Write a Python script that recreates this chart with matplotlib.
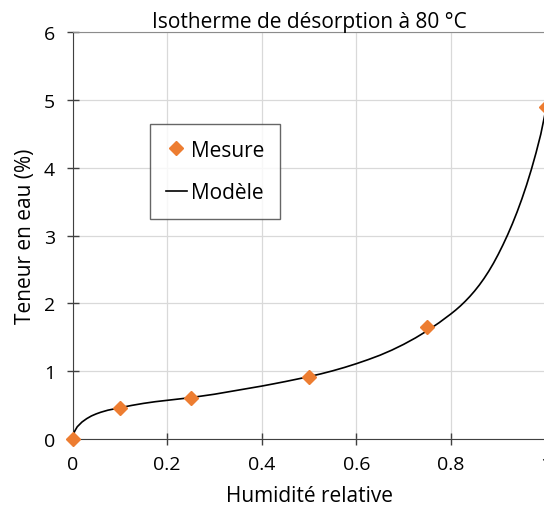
import numpy as np
import matplotlib
matplotlib.use("Agg")
import matplotlib.pyplot as plt

plt.rcParams['font.family'] = ['Open Sans', 'DejaVu Sans']

# mesures
hr_mesure = [0, 0.1, 0.25, 0.5, 0.75, 1.0]
teneur_mesure = [0, 0.45, 0.61, 0.91, 1.65, 4.9]

# modèle
hr_modele = [0, 0.002, 0.005, 0.01, 0.02, 0.03, 0.04, 0.05, 0.06, 0.075,
             0.1, 0.125, 0.15, 0.175, 0.2, 0.225, 0.25, 0.275, 0.3, 0.325,
             0.35, 0.375, 0.4, 0.425, 0.45, 0.475, 0.5, 0.525, 0.55, 0.575,
             0.6, 0.625, 0.65, 0.675, 0.7, 0.725, 0.75, 0.775, 0.8,
             0.81, 0.82, 0.83, 0.84, 0.85, 0.86, 0.87, 0.88, 0.89, 0.9,
             0.91, 0.92, 0.93, 0.94, 0.95, 0.96, 0.97, 0.98, 0.99, 1.0]
teneur_modele = [0, 0.07, 0.12, 0.18, 0.25, 0.3, 0.34, 0.37, 0.395, 0.425,
                 0.46, 0.495, 0.525, 0.55, 0.57, 0.59, 0.61, 0.635, 0.66, 0.69,
                 0.72, 0.75, 0.78, 0.813, 0.847, 0.883, 0.92, 0.96, 1.005, 1.055,
                 1.11, 1.17, 1.235, 1.31, 1.395, 1.49, 1.596, 1.714, 1.844,
                 1.9, 1.961, 2.028, 2.101, 2.181, 2.269, 2.366, 2.473, 2.591, 2.721,
                 2.861, 3.011, 3.173, 3.348, 3.538, 3.745, 3.971, 4.219, 4.492, 4.83]

x_ticks = [0, 0.2, 0.4, 0.6, 0.8, 1]
x_labels = ['0', '0.2', '0.4', '0.6', '0.8', '1']
y_ticks = [0, 1, 2, 3, 4, 5, 6]

fig = plt.figure(figsize=(5.44, 5.06), dpi=100)
ax = fig.add_axes([72.5 / 544, 66 / 506, 473 / 544, 407 / 506])

ax.plot(hr_modele, teneur_modele, color='black', lw=1.2, label='Modèle',
        zorder=3, solid_joinstyle='round')
ax.plot(hr_mesure, teneur_mesure, ls='none', marker='D', ms=7, color='#ED7D31',
        label='Mesure', zorder=4, clip_on=False)

ax.set_xlim(0, 1)
ax.set_ylim(0, 6)
ax.set_xticks(x_ticks)
ax.set_xticklabels(x_labels)
ax.set_yticks(y_ticks)
ax.grid(True, color='#d9d9d9', lw=0.9)
ax.set_axisbelow(True)

ax.spines['right'].set_visible(False)
ax.spines['top'].set_color('#8c8c8c')
ax.spines['left'].set_color('#404040')
ax.spines['bottom'].set_color('#404040')
ax.tick_params(direction='inout', length=9, width=1, color='#404040',
               labelsize=14)
ax.tick_params(axis='y', pad=8)
ax.tick_params(axis='x', pad=7)

ax.set_title('Isotherme de désorption à 80 °C', fontsize=15, pad=3)
ax.set_xlabel('Humidité relative', fontsize=15, labelpad=9)
ax.set_ylabel('Teneur en eau (%)', fontsize=15, labelpad=6)

handles, labels = ax.get_legend_handles_labels()
leg = ax.legend(handles[::-1], labels[::-1], loc='upper left',
                bbox_to_anchor=(0.164, 0.774), fontsize=15, frameon=True,
                fancybox=False, edgecolor='#404040', handlelength=1.0,
                handletextpad=0.2, labelspacing=1.05, borderpad=0.75,
                borderaxespad=0)
leg.get_frame().set_linewidth(1.0)

fig.savefig('out.png', dpi=100)
